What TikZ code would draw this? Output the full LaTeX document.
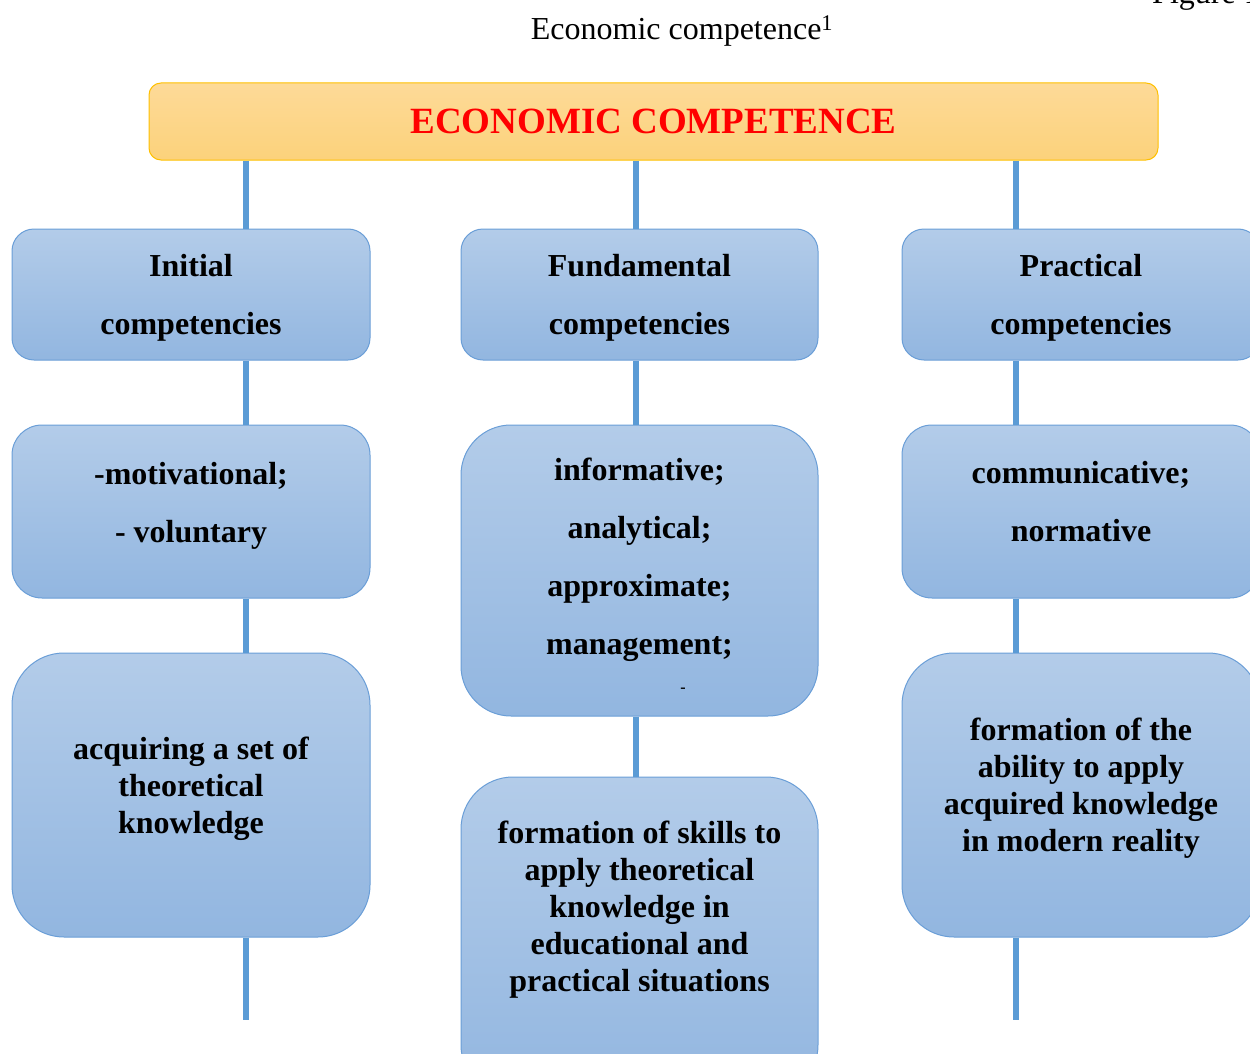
\documentclass[tikz,border=0pt]{standalone}
\usepackage{fontspec}
\setmainfont{Liberation Serif}
\definecolor{linkblue}{HTML}{5B9BD5}
\definecolor{boxedge}{HTML}{6A9ED7}
\definecolor{boxtop}{HTML}{B3CCE9}
\definecolor{boxbot}{HTML}{92B6E0}
\definecolor{headtop}{HTML}{FDDA98}
\definecolor{headbot}{HTML}{FCD27B}
\definecolor{headedge}{HTML}{FFC000}
\begin{document}
\begin{tikzpicture}[x=1pt,y=-1pt,
  box/.style={draw=boxedge, line width=1pt, rounded corners=#1,
    top color=boxtop, bottom color=boxbot, inner sep=0pt},
  link/.style={draw=linkblue, line width=6pt},
  lbl/.style={font=\bfseries\fontsize{32}{58}\selectfont, align=center, text=black, inner sep=0pt},
  para/.style={font=\bfseries\fontsize{32}{37}\selectfont, align=center, text=black, inner sep=0pt}]
\useasboundingbox (0,0) rectangle (1250,1054);
\clip (0,0) rectangle (1250,1054);

% caption
\node[anchor=base west, font=\fontsize{32}{38}\selectfont, inner sep=0pt] (fig) at (1152,4) {Figure 1};
\node[font=\fontsize{32}{38}\selectfont, inner sep=0pt] (cap) at (682,31) {Economic competence\textsuperscript{1}};

% column axes for the connectors
\coordinate (colL) at (246,0);
\coordinate (colM) at (636,0);
\coordinate (colR) at (1016,0);

% heading
\node[draw=headedge, line width=1pt, rounded corners=12pt, top color=headtop, bottom color=headbot,
  minimum width=1009, minimum height=77, inner sep=0pt,
  font=\bfseries\fontsize{37}{40}\selectfont, text={rgb,255:red,255;green,0;blue,0}] (head) at (653.5,121.5) {ECONOMIC COMPETENCE};

% first row
\node[box=22pt, minimum width=358, minimum height=131] (a1) at (191,294.5) {};
\node[box=22pt, minimum width=357, minimum height=131] (b1) at (639.5,294.5) {};
\node[box=22pt, minimum width=358, minimum height=131] (c1) at (1081,294.5) {};
\node[lbl] (ta1) at (191,298) {Initial\\competencies};
\node[lbl] (tb1) at (639.5,298) {Fundamental\\competencies};
\node[lbl] (tc1) at (1081,298) {Practical\\competencies};

% second row
\node[box=30pt, minimum width=358, minimum height=173] (a2) at (191,511.5) {};
\node[box=50pt, minimum width=357, minimum height=291] (b2) at (639.5,570.5) {};
\node[box=30pt, minimum width=358, minimum height=173] (c2) at (1081,511.5) {};
\node[lbl] (ta2) at (191,506) {-motivational;\\- voluntary};
\node[lbl] (tb2) at (639.5,560) {informative;\\analytical;\\approximate;\\management;};
\node[font=\bfseries\fontsize{16}{18}\selectfont, inner sep=0pt] (dash) at (683,690) {-};
\node[lbl] (tc2) at (1081,502) {communicative;\\normative};

% third row
\node[box=52pt, minimum width=358, minimum height=284] (a3) at (191,795) {};
\node[box=52pt, minimum width=357, minimum height=320] (b3) at (639.5,937) {};
\node[box=52pt, minimum width=358, minimum height=284] (c3) at (1081,795) {};
\node[para] (ta3) at (191,789) {acquiring a set of\\theoretical\\knowledge};
\node[para] (tb3) at (639.5,910) {formation of skills to\\apply theoretical\\knowledge in\\educational and\\practical situations};
\node[para] (tc3) at (1081,788) {formation of the\\ability to apply\\acquired knowledge\\in modern reality};

% free ends below the last row
\coordinate (endL) at (246,1020);
\coordinate (endR) at (1016,1020);

% connectors
\draw[link] (head.south -| colL) -- (a1.north -| colL);
\draw[link] (head.south -| colM) -- (b1.north -| colM);
\draw[link] (head.south -| colR) -- (c1.north -| colR);
\draw[link] (a1.south -| colL) -- (a2.north -| colL);
\draw[link] (b1.south -| colM) -- (b2.north -| colM);
\draw[link] (c1.south -| colR) -- (c2.north -| colR);
\draw[link] (a2.south -| colL) -- (a3.north -| colL);
\draw[link] (b2.south -| colM) -- (b3.north -| colM);
\draw[link] (c2.south -| colR) -- (c3.north -| colR);
\draw[link] (a3.south -| colL) -- (endL);
\draw[link] (c3.south -| colR) -- (endR);
\end{tikzpicture}
\end{document}
